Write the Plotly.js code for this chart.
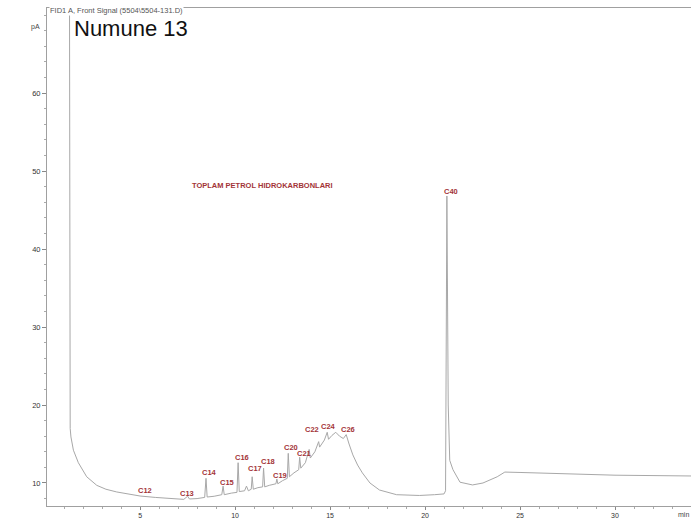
<!DOCTYPE html>
<html>
<head>
<meta charset="utf-8">
<script src="https://cdn.plot.ly/plotly-3.0.1.min.js"></script>
<style>html,body{margin:0;padding:0;background:#fff;}#chart{width:691px;height:519px;}</style>
</head>
<body>
<div id="chart"></div>
<script>
// Retention time (min) and signal (pA)
const timeMin = [1.28, 1.30, 1.32, 1.36, 1.49, 1.75, 2.19, 2.72, 3.20, 3.77, 4.40, 5.00, 5.80, 6.74, 7.30, 7.50, 7.60, 8.00, 8.40, 8.47, 8.53, 8.90, 9.30, 9.37, 9.43, 9.80, 10.10, 10.16, 10.22, 10.50, 10.60, 10.70, 10.85, 10.90, 10.96, 11.20, 11.45, 11.50, 11.56, 11.80, 12.15, 12.20, 12.25, 12.50, 12.75, 12.80, 12.86, 13.10, 13.35, 13.40, 13.46, 13.70, 13.90, 13.96, 14.20, 14.40, 14.45, 14.70, 14.85, 14.92, 15.10, 15.30, 15.50, 15.70, 15.85, 16.00, 16.20, 16.45, 16.70, 17.10, 17.60, 18.50, 19.70, 20.50, 21.00, 21.08, 21.15, 21.22, 21.30, 21.47, 21.84, 22.50, 23.05, 23.80, 24.20, 25.00, 27.00, 30.00, 34.00];
const signalPA = [80.0, 30.0, 17.0, 15.9, 14.2, 12.6, 10.8, 9.7, 9.2, 8.85, 8.55, 8.33, 8.15, 7.95, 7.9, 8.3, 7.95, 8.0, 8.15, 10.6, 8.2, 8.3, 8.5, 9.6, 8.5, 8.7, 8.8, 12.6, 8.9, 9.0, 9.6, 9.0, 9.2, 10.8, 9.2, 9.4, 9.5, 11.9, 9.5, 9.7, 9.9, 10.5, 9.9, 10.3, 10.6, 13.8, 10.8, 11.3, 11.7, 13.3, 11.9, 12.6, 14.3, 13.2, 14.0, 15.3, 14.6, 15.5, 16.5, 15.6, 16.1, 16.5, 16.0, 15.7, 16.2, 15.0, 13.6, 12.3, 11.3, 10.0, 9.1, 8.5, 8.4, 8.5, 8.6, 9.0, 46.8, 20.0, 12.9, 11.7, 10.1, 9.75, 10.0, 10.8, 11.4, 11.35, 11.2, 11.0, 10.9];

// Peak labels (n-alkanes) and where they sit
const peakNames = ["C12", "C13", "C14", "C15", "C16", "C17", "C18", "C19", "C20", "C21", "C22", "C24", "C26", "C40"];
const peakLabelT = [5.26, 7.47, 8.63, 9.58, 10.37, 11.05, 11.74, 12.37, 12.92, 13.62, 14.05, 14.90, 15.95, 21.37];
const peakLabelV = [9.0, 8.6, 11.4, 10.1, 13.3, 11.9, 12.7, 10.9, 14.6, 13.8, 16.8, 17.2, 16.8, 47.4];

const yTickVals = [10, 20, 30, 40, 50, 60];
const xTickVals = [5, 10, 15, 20, 25, 30];

const W = 691, H = 519, ML = 47, MR = 0, MT = 8, MB = 13;
const pw = W - ML - MR, ph = H - MT - MB;
const px = x => (x - ML) / pw;
const py = y => (H - MB - y) / ph;

const red = "#a33437";
const annotations = peakNames.map((n, i) => ({
  x: peakLabelT[i], y: peakLabelV[i], xref: "x", yref: "y",
  text: "<b>" + n + "</b>", showarrow: false, font: {family: "Arial, Liberation Sans", size: 7.5, color: red},
  xanchor: "center", yanchor: "middle"
}));
annotations.push({x: 11.42, y: 48.1, xref: "x", yref: "y", text: "<b>TOPLAM PETROL HIDROKARBONLARI</b>", showarrow: false,
  font: {family: "Arial, Liberation Sans", size: 7.5, color: red}, xanchor: "center", yanchor: "middle"});
annotations.push({x: px(49), y: py(10), xref: "paper", yref: "paper", text: "FID1 A, Front Signal (5504\\5504-131.D)",
  showarrow: false, font: {family: "Arial, Liberation Sans", size: 7.5, color: "#555"}, xanchor: "left", yanchor: "middle",
  bgcolor: "#fff", borderpad: 0});
annotations.push({x: px(35), y: py(27), xref: "paper", yref: "paper", text: "pA", showarrow: false,
  font: {family: "Arial, Liberation Sans", size: 7, color: "#444"}, xanchor: "center", yanchor: "middle"});
annotations.push({x: px(72), y: py(28), xref: "paper", yref: "paper", text: "Numune 13", showarrow: false,
  font: {family: "Arial, Liberation Sans", size: 22, color: "#111"}, xanchor: "left", yanchor: "middle"});
annotations.push({x: px(676), y: py(514), xref: "paper", yref: "paper", text: "min", showarrow: false,
  font: {family: "Arial, Liberation Sans", size: 7, color: "#444"}, xanchor: "left", yanchor: "middle"});

const trace = {
  x: timeMin, y: signalPA, type: "scatter", mode: "lines",
  line: {color: "#a8a8a8", width: 1}, hoverinfo: "skip", cliponaxis: true
};

const layout = {
  width: W, height: H, margin: {l: ML, r: MR, t: MT, b: MB, pad: 0},
  paper_bgcolor: "#fff", plot_bgcolor: "#fff", showlegend: false,
  xaxis: {range: [0.1, 34.0], tickvals: xTickVals, ticktext: xTickVals.map(String), ticks: "outside", ticklen: 3,
    tickcolor: "#888", showgrid: false, zeroline: false, showline: true, linecolor: "#a0a0a0", linewidth: 1,
    mirror: true, tickfont: {family: "Arial, Liberation Sans", size: 7, color: "#333"},
    minor: {dtick: 1, tick0: 0, ticks: "outside", ticklen: 2, tickcolor: "#aaa"}},
  yaxis: {range: [7.05, 70.9], tickvals: yTickVals, ticktext: yTickVals.map(String), ticks: "outside", ticklen: 4,
    tickcolor: "#888", showgrid: false, zeroline: false, showline: true, linecolor: "#a0a0a0", linewidth: 1,
    tickfont: {family: "Arial, Liberation Sans", size: 7.5, color: "#333"},
    minor: {dtick: 2, tick0: 0, ticks: "outside", ticklen: 2, tickcolor: "#aaa"}},
  annotations: annotations
};

Plotly.newPlot("chart", [trace], layout, {displayModeBar: false, staticPlot: true});
</script>
</body>
</html>
